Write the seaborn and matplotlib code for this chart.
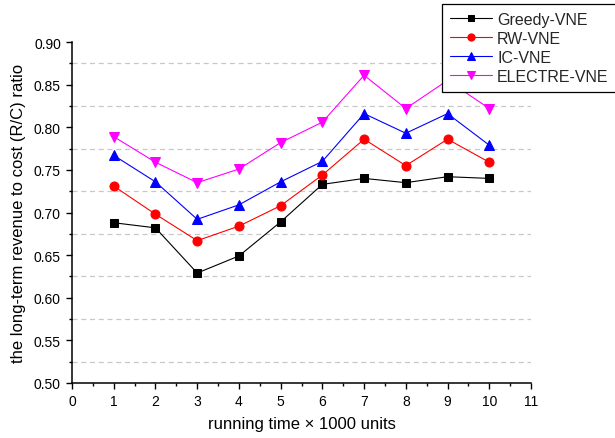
import matplotlib
matplotlib.use("Agg")
import matplotlib.pyplot as plt
from matplotlib.ticker import MultipleLocator
import seaborn as sns
import pandas as pd

# 横軸: 実行時間 (×1000 units)
running_time = [1, 2, 3, 4, 5, 6, 7, 8, 9, 10]

# 各手法の R/C 比
greedy_vne = [0.688, 0.682, 0.629, 0.649, 0.689, 0.733, 0.740, 0.735, 0.742, 0.740]
rw_vne = [0.731, 0.698, 0.667, 0.684, 0.708, 0.744, 0.786, 0.755, 0.786, 0.759]
ic_vne = [0.767, 0.736, 0.692, 0.709, 0.736, 0.760, 0.816, 0.793, 0.816, 0.779]
electre_vne = [0.789, 0.759, 0.735, 0.751, 0.782, 0.806, 0.861, 0.822, 0.855, 0.822]

series_names = ["Greedy-VNE", "RW-VNE", "IC-VNE", "ELECTRE-VNE"]
series_values = [greedy_vne, rw_vne, ic_vne, electre_vne]
series_colors = ["black", "#ff0000", "#0000ff", "#ff00ff"]
series_markers = ["s", "o", "^", "v"]
marker_sizes = [5.5, 6.5, 6.5, 6.5]

sns.set_style("ticks")
plt.rcParams["font.family"] = ["Liberation Sans", "DejaVu Sans"]

fig = plt.figure(figsize=(6.15, 4.39), dpi=100)
ax = fig.add_axes([0.1171, 0.1253, 0.7463, 0.7767])

for name, vals, col, mk, ms in zip(series_names, series_values, series_colors,
                                   series_markers, marker_sizes):
    df = pd.DataFrame({"time": running_time, "ratio": vals})
    sns.lineplot(data=df, x="time", y="ratio", ax=ax, color=col, marker=mk,
                 markersize=ms, markeredgecolor=col, linewidth=0.8,
                 label=name, zorder=3)

# 軸の設定
ax.set_xlim(0, 11)
ax.set_ylim(0.50, 0.90)
ax.xaxis.set_major_locator(MultipleLocator(1))
ax.xaxis.set_minor_locator(MultipleLocator(0.5))
ax.yaxis.set_major_locator(MultipleLocator(0.05))
ax.yaxis.set_minor_locator(MultipleLocator(0.025))
ax.yaxis.set_major_formatter(matplotlib.ticker.FormatStrFormatter("%.2f"))

ax.grid(False)
ax.yaxis.grid(True, which="minor", linestyle=(0, (4, 3)), color="#c8c8c8", linewidth=0.9)
ax.set_axisbelow(True)

for side in ["top", "right"]:
    ax.spines[side].set_visible(False)
for side in ["left", "bottom"]:
    ax.spines[side].set_color("black")
    ax.spines[side].set_linewidth(1.1)

ax.tick_params(which="major", direction="out", length=4.5, width=1.0, colors="black",
               labelsize=10)
ax.tick_params(which="minor", direction="out", length=2.5, width=1.0, colors="black")

ax.set_xlabel("running time × 1000 units", fontsize=12, color="black", labelpad=6)
ax.set_ylabel("the long-term revenue to cost (R/C) ratio", fontsize=12, color="black",
              labelpad=6)

# 凡例 (図の右上、右端は図の端までかかる)
leg = ax.legend(loc="upper left", bbox_to_anchor=(442 / 615, 1 - 5 / 439),
                bbox_transform=fig.transFigure, frameon=True, fancybox=False,
                edgecolor="black", fontsize=11.5, borderaxespad=0,
                handlelength=2.6, labelspacing=0.25, borderpad=0.5,
                handletextpad=0.35, markerscale=0.8)
leg.get_frame().set_linewidth(0.9)
leg.get_frame().set_alpha(1)

fig.savefig("out.png", dpi=100)
